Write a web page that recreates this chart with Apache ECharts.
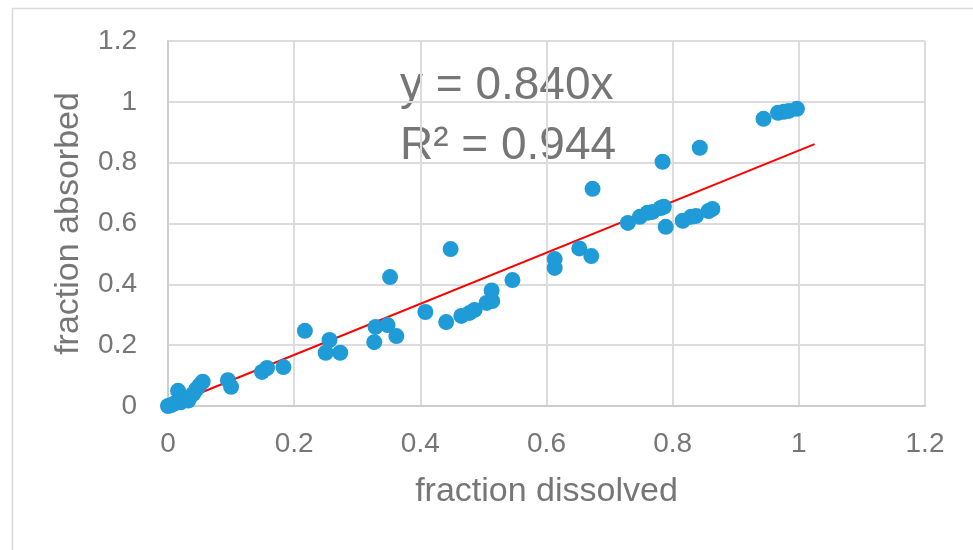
<!DOCTYPE html>
<html>
<head>
<meta charset="utf-8">
<script src="https://cdn.jsdelivr.net/npm/echarts@6/dist/echarts.min.js"></script>
<style>
  html, body { margin: 0; padding: 0; background: #fff; }
  #chart { width: 973px; height: 550px; }
</style>
</head>
<body>
<div id="chart"></div>
<script>
// fraction dissolved (x) / fraction absorbed (y)
const dissolved = [
  0.000, 0.005, 0.010, 0.016, 0.020, 0.028, 0.032, 0.035, 0.040, 0.045, 0.050, 0.055,
  0.095, 0.100, 0.149, 0.157, 0.183,
  0.217, 0.256, 0.250, 0.273,
  0.327, 0.329, 0.348, 0.352, 0.362,
  0.408, 0.441, 0.448, 0.465, 0.478, 0.486, 0.505, 0.514, 0.513, 0.546,
  0.613, 0.613, 0.652, 0.671, 0.673,
  0.729, 0.748, 0.760, 0.768, 0.781, 0.786, 0.784, 0.789,
  0.816, 0.829, 0.837, 0.843, 0.857, 0.863,
  0.944, 0.967, 0.976, 0.984, 0.997
]
const absorbed = [
  0.000, 0.003, 0.008, 0.050, 0.012, 0.020, 0.018, 0.030, 0.040, 0.055, 0.068, 0.080,
  0.085, 0.063, 0.112, 0.125, 0.128,
  0.247, 0.217, 0.175, 0.175,
  0.210, 0.260, 0.266, 0.424, 0.230,
  0.309, 0.276, 0.516, 0.296, 0.306, 0.316, 0.339, 0.345, 0.380, 0.414,
  0.483, 0.454, 0.518, 0.493, 0.714,
  0.602, 0.622, 0.635, 0.638, 0.651, 0.655, 0.803, 0.589,
  0.609, 0.622, 0.625, 0.849, 0.641, 0.648,
  0.944, 0.964, 0.967, 0.970, 0.977
]
// linear trend through origin
const slope = 0.840
const rSquared = 0.944
const trendX = [0, 1.025]
const axisTicks = [0, 0.2, 0.4, 0.6, 0.8, 1, 1.2]

const FONT = "'Liberation Sans', Arial, sans-serif"
const TEXT = '#767676'

const points = dissolved.map((x, i) => [x, absorbed[i]])
const trend = trendX.map(x => [x, slope * x])

const axisCommon = {
  type: 'value',
  min: axisTicks[0],
  max: axisTicks[axisTicks.length - 1],
  interval: 0.2,
  nameLocation: 'middle',
  nameTextStyle: { fontFamily: FONT, fontSize: 34, color: TEXT },
  axisLine: { show: true, lineStyle: { color: '#cdcdcd', width: 2 } },
  axisTick: { show: false },
  splitLine: { show: true, lineStyle: { color: '#dcdcdc', width: 2 } },
  axisLabel: { fontFamily: FONT, fontSize: 28, color: TEXT }
}

const chart = echarts.init(document.getElementById('chart'))
chart.setOption({
  backgroundColor: '#fff',
  animation: false,
  grid: { left: 168, right: 48, top: 41, bottom: 144, containLabel: false },
  xAxis: Object.assign({}, axisCommon, {
    name: 'fraction dissolved',
    nameGap: 69,
    axisLabel: Object.assign({}, axisCommon.axisLabel, { margin: 24 })
  }),
  yAxis: Object.assign({}, axisCommon, {
    name: 'fraction absorbed',
    nameGap: 82,
    axisLabel: Object.assign({}, axisCommon.axisLabel, { margin: 31 })
  }),
  graphic: [
    {
      type: 'rect', silent: true, z: -10,
      shape: { x: 12.5, y: 8.5, width: 1100, height: 700 },
      style: { fill: 'none', stroke: '#d9d9d9', lineWidth: 1.5 }
    },
    {
      type: 'text', left: 400, top: 63,
      style: { text: 'y = ' + slope.toFixed(3) + 'x', font: '46px ' + FONT, fill: TEXT }
    },
    {
      type: 'text', left: 400, top: 123,
      style: { text: 'R² = ' + rSquared.toFixed(3), font: '46px ' + FONT, fill: TEXT }
    }
  ],
  series: [
    {
      type: 'line',
      data: trend,
      symbol: 'none',
      z: 1,
      lineStyle: { color: '#ff0000', width: 2 }
    },
    {
      type: 'scatter',
      data: points,
      symbolSize: 16,
      z: 2,
      itemStyle: { color: '#1f9bd7', opacity: 1 }
    }
  ]
})
</script>
</body>
</html>
